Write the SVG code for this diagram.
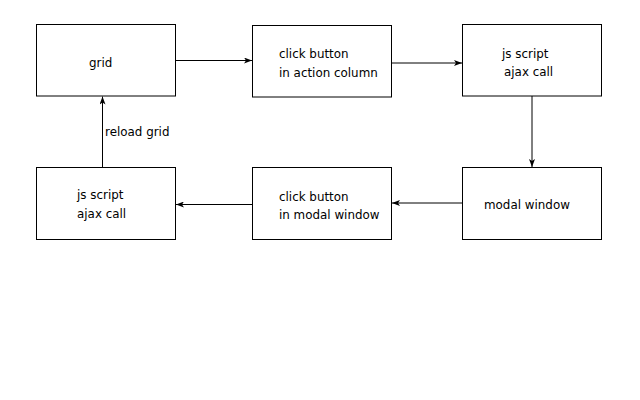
<svg xmlns="http://www.w3.org/2000/svg" width="640" height="400" viewBox="0 0 640 400">
<style>
.box{fill:#fff;stroke:#000;stroke-width:1}
.t{font-family:"DejaVu Sans",Verdana,sans-serif;font-size:11.9px;fill:#000}
.c{stroke:#000;stroke-width:1;fill:none;marker-end:url(#ah)}
</style>
<defs>
<marker id="ah" viewBox="0 0 8 6" refX="8" refY="3" markerWidth="8" markerHeight="6" markerUnits="userSpaceOnUse" orient="auto">
<path d="M0,0 L8,3 L0,6 L2,3 Z" fill="#000"/>
</marker>
</defs>
<rect width="640" height="400" fill="#fff"/>
<g id="connectors">
<path class="c" d="M175.5,60.5 H252"/>
<path class="c" d="M391.5,63 H462"/>
<path class="c" d="M532,96 V167"/>
<path class="c" d="M462.5,203 H392"/>
<path class="c" d="M252.5,204.5 H176"/>
<path class="c" d="M102.5,167.5 V96.5"/>
<text class="t" x="105" y="136">reload grid</text>
</g>
<g id="grid"><rect class="box" x="36.5" y="24.5" width="139" height="71.5"/><text class="t" x="89" y="67">grid</text></g>
<g id="click-action"><rect class="box" x="252.5" y="25.5" width="139" height="71.5"/><text class="t" x="279" y="58">click button</text><text class="t" x="279" y="77">in action column</text></g>
<g id="js-ajax-1"><rect class="box" x="462.5" y="24.5" width="139" height="71.5"/><text class="t" x="502" y="58">js script</text><text class="t" x="504" y="76">ajax call</text></g>
<g id="modal"><rect class="box" x="462.5" y="167.5" width="139" height="72"/><text class="t" x="484" y="209">modal window</text></g>
<g id="click-modal"><rect class="box" x="252.5" y="167.5" width="139" height="72"/><text class="t" x="279" y="201">click button</text><text class="t" x="279" y="219">in modal window</text></g>
<g id="js-ajax-2"><rect class="box" x="36.5" y="167.5" width="139" height="72"/><text class="t" x="77" y="199">js script</text><text class="t" x="77" y="218">ajax call</text></g>
</svg>
